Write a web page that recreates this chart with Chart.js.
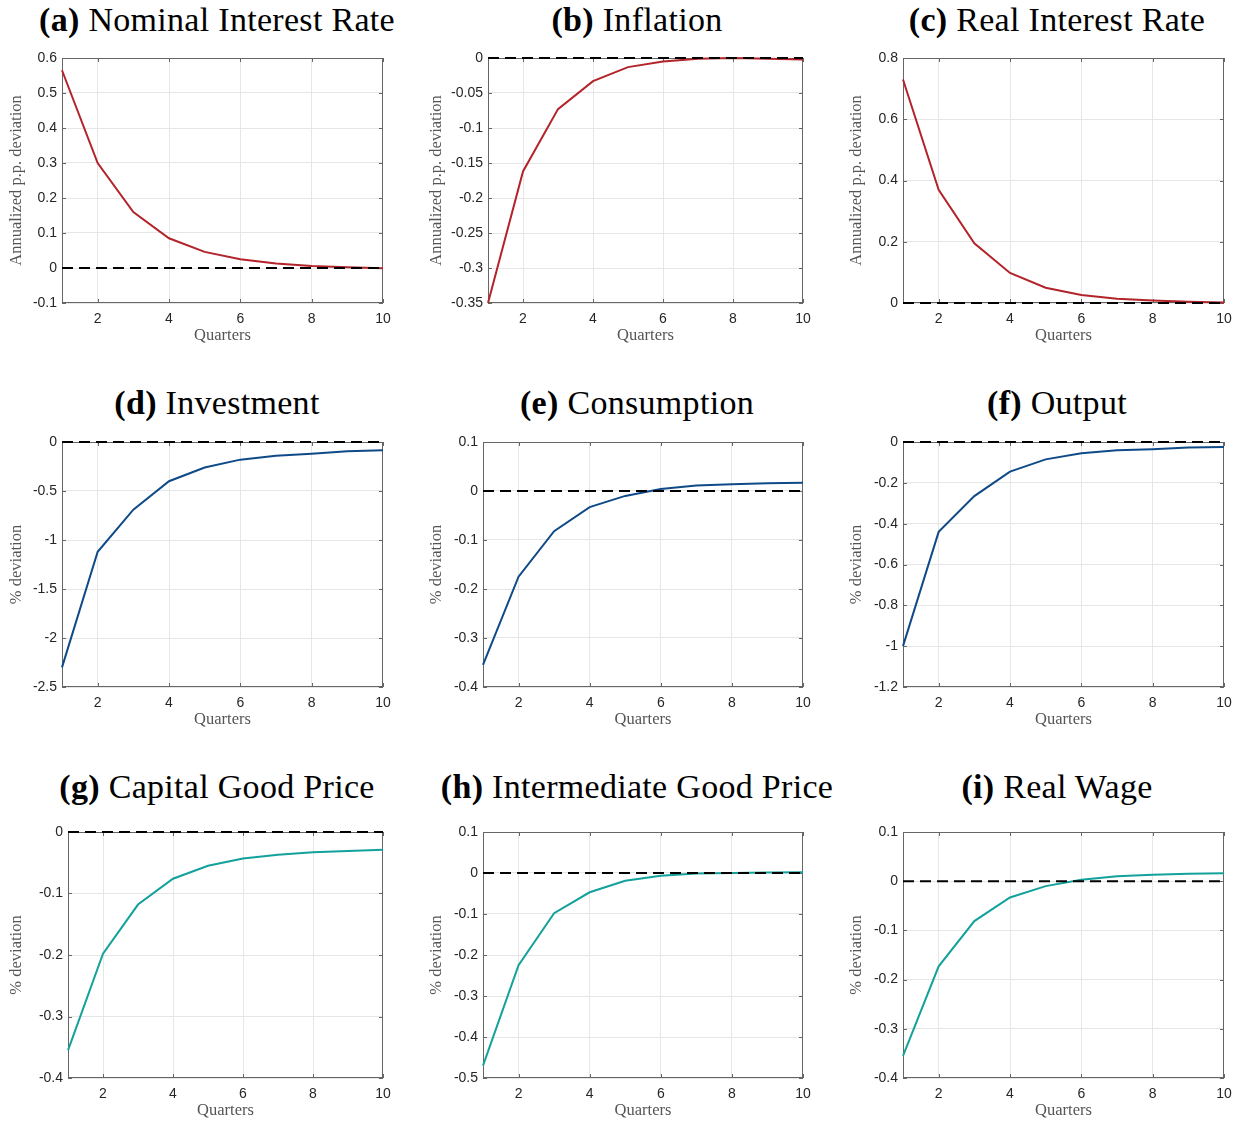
<!DOCTYPE html>
<html>
<head>
<meta charset="utf-8">
<script src="https://cdn.jsdelivr.net/npm/chart.js@4.4.1/dist/chart.umd.min.js"></script>
<style>
  body { margin: 0; background: #fff; width: 1239px; height: 1121px; position: relative; overflow: hidden; }
  .titulo { position: absolute; width: 434px; text-align: center; font-family: "Liberation Serif", serif;
            font-size: 34px; line-height: 38px; letter-spacing: 0.3px; color: #000; white-space: nowrap; }
  .titulo b { font-weight: bold; }
  canvas { position: absolute; }
</style>
</head>
<body>
<script>
// =================== Datos ===================
const quarters = [1, 2, 3, 4, 5, 6, 7, 8, 9, 10];
const xTicks = [2, 4, 6, 8, 10];

const nominalRate = [0.565, 0.300, 0.160, 0.085, 0.046, 0.025, 0.013, 0.006, 0.002, -0.001];
const inflation = [-0.350, -0.162, -0.073, -0.033, -0.013, -0.005, -0.001, 0.000, -0.001, -0.002];
const realRate = [0.730, 0.370, 0.195, 0.098, 0.050, 0.026, 0.014, 0.008, 0.004, 0.002];
const investment = [-2.30, -1.12, -0.69, -0.40, -0.26, -0.18, -0.14, -0.12, -0.095, -0.085];
const consumption = [-0.355, -0.175, -0.082, -0.033, -0.010, 0.004, 0.011, 0.014, 0.016, 0.017];
const output = [-1.00, -0.44, -0.265, -0.145, -0.085, -0.055, -0.040, -0.035, -0.027, -0.025];
const capitalPrice = [-0.355, -0.198, -0.118, -0.076, -0.055, -0.043, -0.037, -0.033, -0.031, -0.029];
const intermediatePrice = [-0.470, -0.225, -0.098, -0.047, -0.019, -0.007, -0.001, 0.000, 0.001, 0.002];
const realWage = [-0.355, -0.173, -0.081, -0.033, -0.010, 0.003, 0.010, 0.013, 0.015, 0.016];

// rango del eje y: [min, max, paso]
const yRangeA = [-0.1, 0.6, 0.1];
const yRangeB = [-0.35, 0, 0.05];
const yRangeC = [0, 0.8, 0.2];
const yRangeD = [-2.5, 0, 0.5];
const yRangeE = [-0.4, 0.1, 0.1];
const yRangeF = [-1.2, 0, 0.2];
const yRangeG = [-0.4, 0, 0.1];
const yRangeH = [-0.5, 0.1, 0.1];
const yRangeI = [-0.4, 0.1, 0.1];

const letters = ["a", "b", "c", "d", "e", "f", "g", "h", "i"];
const titles = ["Nominal Interest Rate", "Inflation", "Real Interest Rate",
                "Investment", "Consumption", "Output",
                "Capital Good Price", "Intermediate Good Price", "Real Wage"];
const yLabels = ["Annualized p.p. deviation", "Annualized p.p. deviation", "Annualized p.p. deviation",
                 "% deviation", "% deviation", "% deviation",
                 "% deviation", "% deviation", "% deviation"];
const xLabel = "Quarters";

// =================== Estilo / posiciones ===================
const RED = "#b2232a", BLUE = "#0f4a88", TEAL = "#13a19b";
const paneles = [
  { serie: nominalRate, rango: yRangeA, color: RED, box: [62, 383, 58, 303] },
  { serie: inflation, rango: yRangeB, color: RED, box: [488, 803, 58, 303] },
  { serie: realRate, rango: yRangeC, color: RED, box: [903, 1224, 58, 303] },
  { serie: investment, rango: yRangeD, color: BLUE, box: [62, 383, 442, 687] },
  { serie: consumption, rango: yRangeE, color: BLUE, box: [483, 803, 442, 687] },
  { serie: output, rango: yRangeF, color: BLUE, box: [903, 1224, 442, 687] },
  { serie: capitalPrice, rango: yRangeG, color: TEAL, box: [68, 383, 832, 1078] },
  { serie: intermediatePrice, rango: yRangeH, color: TEAL, box: [483, 803, 832, 1078] },
  { serie: realWage, rango: yRangeI, color: TEAL, box: [903, 1224, 832, 1078] }
];
const titleY = [20, 403, 787];

const PT = 12, PR = 12, HX = 44;

// caja estilo MATLAB con marcas hacia dentro
const boxPlugin = {
  id: "matlabBox",
  beforeDatasetsDraw(chart) {
    const { ctx, chartArea: a, scales } = chart;
    ctx.save();
    ctx.strokeStyle = "#666";
    ctx.lineWidth = 1;
    ctx.strokeRect(Math.round(a.left) + 0.5, Math.round(a.top) + 0.5,
                   Math.round(a.right - a.left) - 1, Math.round(a.bottom - a.top) - 1);
    ctx.beginPath();
    scales.y.ticks.forEach(t => {
      const y = Math.round(scales.y.getPixelForValue(t.value)) + 0.5;
      ctx.moveTo(a.left, y); ctx.lineTo(a.left + 4, y);
      ctx.moveTo(a.right, y); ctx.lineTo(a.right - 4, y);
    });
    scales.x.ticks.forEach(t => {
      const x = Math.round(scales.x.getPixelForValue(t.value)) + 0.5;
      ctx.moveTo(x, a.bottom); ctx.lineTo(x, a.bottom - 4);
      ctx.moveTo(x, a.top); ctx.lineTo(x, a.top + 4);
    });
    ctx.stroke();
    ctx.restore();
  }
};

function fmt(v) {
  const r = Math.round(v * 1000) / 1000;
  return r === 0 ? "0" : String(r);
}

paneles.forEach((p, i) => {
  const col = i % 3, row = Math.floor(i / 3);
  const [x1, x2, y1, y2] = p.box;
  const left = col * 420;
  const top = y1 - PT;
  const wy = x1 - left;

  const t = document.createElement("div");
  t.className = "titulo";
  t.style.left = (col * 420) + "px";
  t.style.top = (titleY[row] - 19) + "px";
  t.innerHTML = `<b>(${letters[i]})</b> ${titles[i]}`;
  document.body.appendChild(t);

  const cv = document.createElement("canvas");
  const w = x2 + PR - left, h = y2 + HX - top;
  cv.style.left = left + "px";
  cv.style.top = top + "px";
  cv.style.width = w + "px";
  cv.style.height = h + "px";
  cv.width = w; cv.height = h;
  document.body.appendChild(cv);

  const [ymin, ymax, ystep] = p.rango;

  new Chart(cv.getContext("2d"), {
    type: "line",
    data: {
      datasets: [
        {
          data: quarters.map(q => ({ x: q, y: 0 })),
          borderColor: "#000",
          borderWidth: 2,
          borderDash: [11, 6],
          pointRadius: 0,
          clip: 4
        },
        {
          data: quarters.map((q, k) => ({ x: q, y: p.serie[k] })),
          borderColor: p.color,
          borderWidth: 2,
          pointRadius: 0,
          tension: 0,
          clip: 4
        }
      ]
    },
    options: {
      responsive: false,
      animation: false,
      devicePixelRatio: 1,
      layout: { padding: { top: PT, right: PR, left: 0, bottom: 0 } },
      plugins: { legend: { display: false }, tooltip: { enabled: false } },
      scales: {
        x: {
          type: "linear",
          min: 1, max: 10,
          afterBuildTicks: s => { s.ticks = xTicks.map(v => ({ value: v })); },
          afterFit: s => { s.height = HX; s.paddingLeft = 0; s.paddingRight = 0; },
          border: { display: false },
          grid: {
            color: c => (c.tick && c.tick.value === 10) ? "rgba(0,0,0,0)" : "#e6e6e6",
            drawTicks: false
          },
          ticks: {
            padding: 8, maxRotation: 0,
            color: "#262626",
            font: { family: "Liberation Sans", size: 14 }
          },
          title: {
            display: true, text: xLabel, color: "#555",
            font: { family: "Liberation Serif", size: 16.5 },
            padding: { top: 0, bottom: 1 }
          }
        },
        y: {
          min: ymin, max: ymax,
          afterBuildTicks: s => {
            const n = Math.round((ymax - ymin) / ystep);
            const arr = [];
            for (let k = 0; k <= n; k++) arr.push({ value: Math.round((ymin + k * ystep) * 1000) / 1000 });
            s.ticks = arr;
          },
          afterFit: s => { s.width = wy; s.paddingTop = 0; s.paddingBottom = 0; },
          border: { display: false },
          grid: { color: "#e6e6e6", drawTicks: false },
          ticks: {
            padding: 5,
            color: "#262626",
            font: { family: "Liberation Sans", size: 14 },
            callback: v => fmt(v)
          },
          title: {
            display: true, text: yLabels[i], color: "#555",
            font: { family: "Liberation Serif", size: 16.5 },
            padding: { top: 7, bottom: 0 }
          }
        }
      }
    },
    plugins: [boxPlugin]
  });
});
</script>
</body>
</html>
